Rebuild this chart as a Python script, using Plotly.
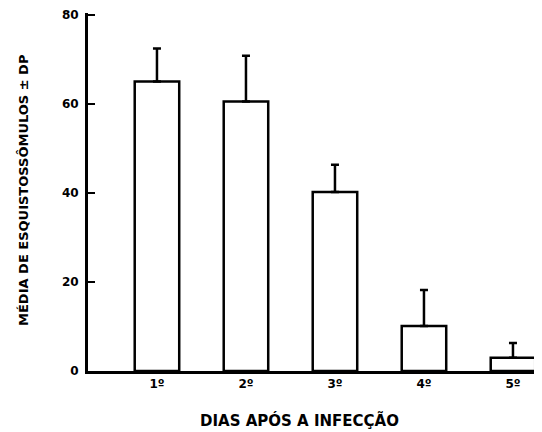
import plotly.graph_objects as go

days = ["1º", "2º", "3º", "4º", "5º"]
means = [65.0, 60.5, 40.2, 10.1, 3.0]
sd = [7.4, 10.3, 6.1, 8.1, 3.3]
y_ticks = [0, 20, 40, 60, 80]

FONT = "DejaVu Sans"

fig = go.Figure(
    go.Bar(
        x=days,
        y=means,
        width=0.5,
        marker=dict(color="white", line=dict(color="black", width=2.5)),
        error_y=dict(
            type="data",
            symmetric=False,
            array=sd,
            arrayminus=[0] * len(sd),
            color="black",
            thickness=2.5,
            width=4,
        ),
    )
)

# page body has an 8px default margin, so the figure is sized to fit inside
fig.update_layout(
    width=534,
    height=424,
    margin=dict(l=80, r=5, t=5, b=61),
    plot_bgcolor="white",
    paper_bgcolor="white",
    showlegend=False,
    font=dict(family=FONT, color="black", size=12, weight="bold"),
    annotations=[
        dict(
            text="DIAS APÓS A INFECÇÃO",
            xref="paper", yref="paper",
            x=0.47, y=-0.137,
            xanchor="center", yanchor="middle",
            showarrow=False,
            font=dict(family=FONT, size=15, weight="bold"),
        ),
        dict(
            text="MÉDIA DE ESQUISTOSSÔMULOS ± DP",
            xref="paper", yref="paper",
            x=-0.1425, y=0.503,
            xanchor="center", yanchor="middle",
            textangle=-90,
            showarrow=False,
            font=dict(family=FONT, size=13, weight="bold"),
        ),
    ],
)

fig.update_xaxes(
    range=[-0.775, 4.27],
    showline=True,
    linecolor="black",
    linewidth=3,
    ticks="",
    showgrid=False,
    automargin=False,
    tickfont=dict(family=FONT, size=12, weight="bold"),
)

fig.update_yaxes(
    range=[0, 80.4],
    tickvals=y_ticks,
    showline=True,
    linecolor="black",
    linewidth=3,
    ticks="inside",
    ticklen=7,
    tickwidth=2,
    tickcolor="black",
    showgrid=False,
    zeroline=False,
    automargin=False,
    ticklabeloverflow="allow",
    ticklabelstandoff=4,
    tickfont=dict(family=FONT, size=12, weight="bold"),
)

fig.write_html("out.html")
